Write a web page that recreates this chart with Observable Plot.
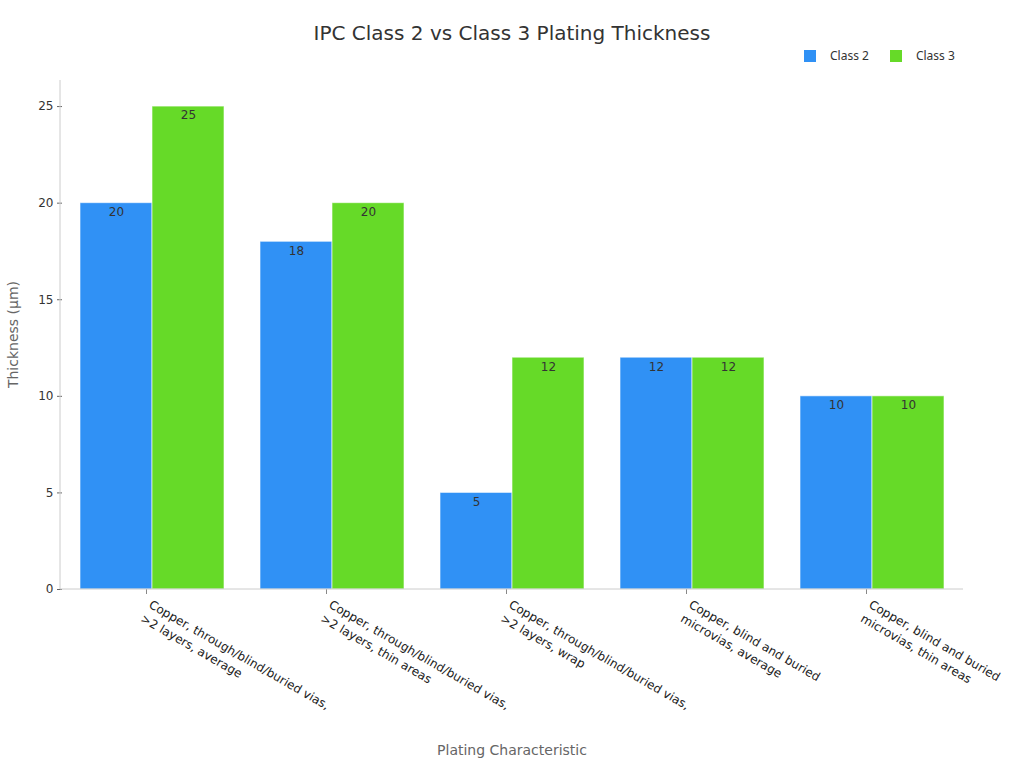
<!DOCTYPE html>
<html>
<head>
<meta charset="utf-8">
<script src="https://cdn.jsdelivr.net/npm/d3@7"></script>
<script src="https://cdn.jsdelivr.net/npm/@observablehq/plot@0.6"></script>
<style>
  body { margin: 0; background: #fff; font-family: "DejaVu Sans", sans-serif; }
  #wrap { position: relative; width: 1024px; height: 768px; }
  #title { position: absolute; top: 21px; left: 0; width: 1024px; text-align: center; font-size: 20px; color: #333; }
  #legend { position: absolute; top: 47px; left: 804px; font-family: "Noto Sans", sans-serif; font-size: 12px; color: #333; display: flex; align-items: center; }
  .sw { display: inline-block; width: 12px; height: 12px; margin-right: 14px; }
  .item { display: flex; align-items: center; margin-right: 21px; }
  #chart { position: absolute; top: 70px; left: 0; }
</style>
</head>
<body>
<div id="wrap">
  <div id="title">IPC Class 2 vs Class 3 Plating Thickness</div>
  <div id="legend"></div>
  <div id="chart"></div>
</div>
<script>
const categories = [
  "Copper, through/blind/buried vias,\n>2 layers, average",
  "Copper, through/blind/buried vias,\n>2 layers, thin areas",
  "Copper, through/blind/buried vias,\n>2 layers, wrap",
  "Copper, blind and buried\nmicrovias, average",
  "Copper, blind and buried\nmicrovias, thin areas"
];
const series = ["Class 2", "Class 3"];
const class2 = [20, 18, 5, 12, 10];
const class3 = [25, 20, 12, 12, 10];
const colors = ["#3091f5", "#66da28"];
const yTicks = [0, 5, 10, 15, 20, 25];

const data = [];
categories.forEach((c, i) => {
  data.push({category: c, cls: series[0], value: class2[i]});
  data.push({category: c, cls: series[1], value: class3[i]});
});

const legend = document.getElementById("legend");
series.forEach((s, i) => {
  const it = document.createElement("div");
  it.className = "item";
  it.innerHTML = `<span class="sw" style="background:${colors[i]}"></span><span>${s}</span>`;
  legend.appendChild(it);
});

const plot = Plot.plot({
  width: 1024,
  height: 698,
  marginLeft: 60,
  marginRight: 61,
  marginTop: 10,
  marginBottom: 179,
  style: {fontFamily: "DejaVu Sans, sans-serif", fontSize: "12px", color: "#333"},
  fx: {domain: categories, paddingInner: 0.2, paddingOuter: 0.1, label: null},
  x: {domain: series, padding: 0, axis: null},
  y: {domain: [0, 26.35], label: null},
  color: {domain: series, range: colors},
  marks: [
    Plot.barY(data, {fx: "category", x: "cls", y: "value", fill: "cls", stroke: "#ffffff", strokeOpacity: 0.6, strokeWidth: 1}),
    Plot.text(data, {fx: "category", x: "cls", y: "value", text: d => String(d.value), dy: 9, fill: "#333", fontSize: 12}),
    Plot.axisY({ticks: yTicks, tickSize: 5, tickPadding: 4, fontSize: 12, fill: "#333", stroke: "#666", label: null, dx: -18}),
    Plot.axisFx({anchor: "bottom", tickRotate: 30, tickSize: 5, fontSize: 12, fill: "#222", stroke: "#888", label: null,
                 tickPadding: 15, lineHeight: 1.35, dx: -6})
  ]
});
document.getElementById("chart").appendChild(plot);

// axis lines and axis titles using the plot's scales
const svg = d3.select(plot);
const y = plot.scale("y");
const x0 = 60, x1 = 1024 - 61;
const y0 = y.apply(0), yTop = y.apply(26.35);
svg.append("line").attr("x1", x0).attr("x2", x0).attr("y1", yTop).attr("y2", y0).attr("stroke", "#ccc");
svg.append("line").attr("x1", x0).attr("x2", x1).attr("y1", y0).attr("y2", y0).attr("stroke", "#ccc");
svg.append("text").attr("x", 512).attr("y", 685).attr("text-anchor", "middle")
  .attr("font-size", 14).attr("fill", "#666").text("Plating Characteristic");
svg.append("text").attr("transform", `translate(18,${(y0 + yTop) / 2}) rotate(-90)`).attr("text-anchor", "middle")
  .attr("font-size", 14).attr("fill", "#666").text("Thickness (μm)");
</script>
</body>
</html>
